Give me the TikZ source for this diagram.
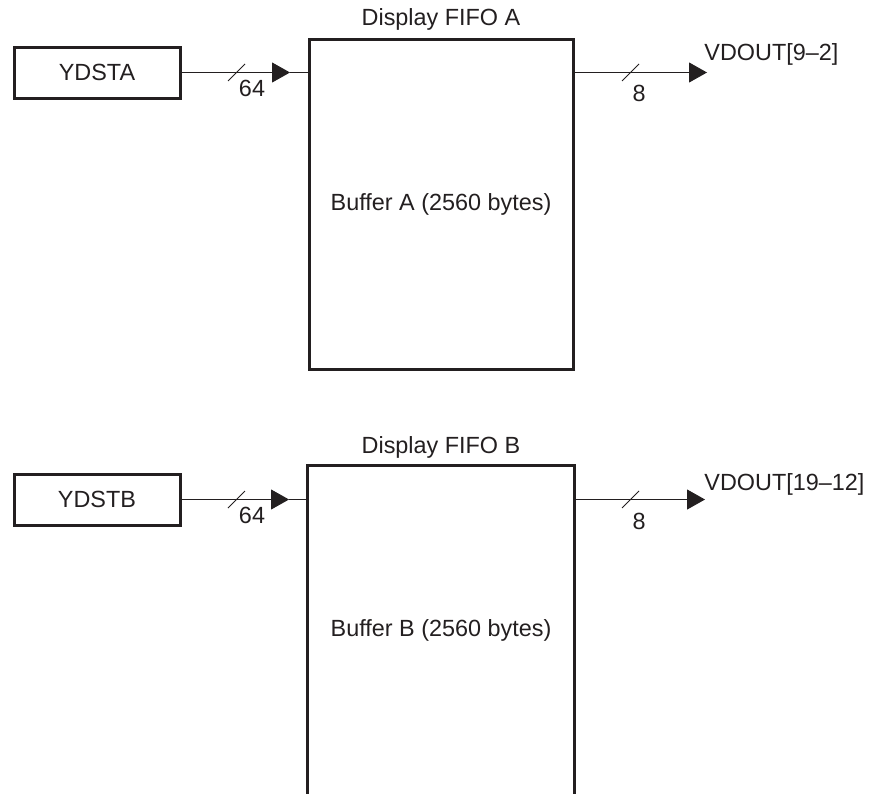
\documentclass[tikz,border=0pt]{standalone}
\usepackage{fontspec}
\setmainfont{Liberation Sans}
\usetikzlibrary{arrows.meta}
\definecolor{inkgray}{HTML}{231F20}

\begin{document}
\begin{tikzpicture}[x=0.5pt, y=-0.5pt,
  every node/.style={font=\fontsize{11.7}{14}\selectfont, text=inkgray},
  regbox/.style={draw=inkgray, line width=1.5pt, minimum width=83pt, minimum height=25.5pt, inner sep=0pt},
  fifobox/.style={draw=inkgray, line width=1.5pt, minimum width=132pt, inner sep=0pt},
  wire/.style={draw=inkgray, line width=0.5pt},
  tip/.style={-{Triangle[length=9pt, width=10pt]}, fill=inkgray}]
\useasboundingbox (0,0) rectangle (870,793);

% channel A
\node[regbox] (ydsta) at (97,72.5) {YDSTA};
\node[fifobox, minimum height=165pt] (fifoa) at (441,204) {Buffer A (2560 bytes)};
\node[anchor=base] (titlea) at (441,25) {Display FIFO A};
\node[inner sep=0pt] (widthina) at (252,88) {64};
\node[inner sep=0pt] (widthouta) at (639,93) {8};
\node[anchor=base west, inner sep=0pt] (vdouta) at (704,60) {VDOUT[9–2]};
\coordinate (ina) at (290,72.5);
\coordinate (outa) at (707,72.5);
\coordinate (slashina) at (236.5,72.5);
\coordinate (slashouta) at (630.5,72.5);
\draw[wire, tip] (ydsta.east) -- (ina);
\draw[wire] (ina) -- (ina -| fifoa.west);
\draw[wire, tip] (ina -| fifoa.east) -- (outa);
\draw[wire] ([shift={(-8.5,8.5)}]slashina) -- ([shift={(8.5,-8.5)}]slashina);
\draw[wire] ([shift={(-8.5,8.5)}]slashouta) -- ([shift={(8.5,-8.5)}]slashouta);

% channel B
\node[regbox] (ydstb) at (97,499.5) {YDSTB};
\node[fifobox, draw=none, minimum height=163pt] (fifob) at (441,630) {Buffer B (2560 bytes)};
\node[anchor=base] (titleb) at (441,453) {Display FIFO B};
\node[inner sep=0pt] (widthinb) at (252,515) {64};
\node[inner sep=0pt] (widthoutb) at (639,521) {8};
\node[anchor=base west, inner sep=0pt] (vdoutb) at (704,490) {VDOUT[19–12]};
\coordinate (inb) at (289,499.5);
\coordinate (outb) at (705,499.5);
\coordinate (slashinb) at (236.5,499.5);
\coordinate (slashoutb) at (630.5,499.5);
\draw[draw=inkgray, line width=1.5pt] (fifob.south west) -- (fifob.north west) -- (fifob.north east) -- (fifob.south east);
\draw[wire, tip] (ydstb.east) -- (inb);
\draw[wire] (inb) -- (inb -| fifob.west);
\draw[wire, tip] (inb -| fifob.east) -- (outb);
\draw[wire] ([shift={(-8.5,8.5)}]slashinb) -- ([shift={(8.5,-8.5)}]slashinb);
\draw[wire] ([shift={(-8.5,8.5)}]slashoutb) -- ([shift={(8.5,-8.5)}]slashoutb);
\end{tikzpicture}
\end{document}
